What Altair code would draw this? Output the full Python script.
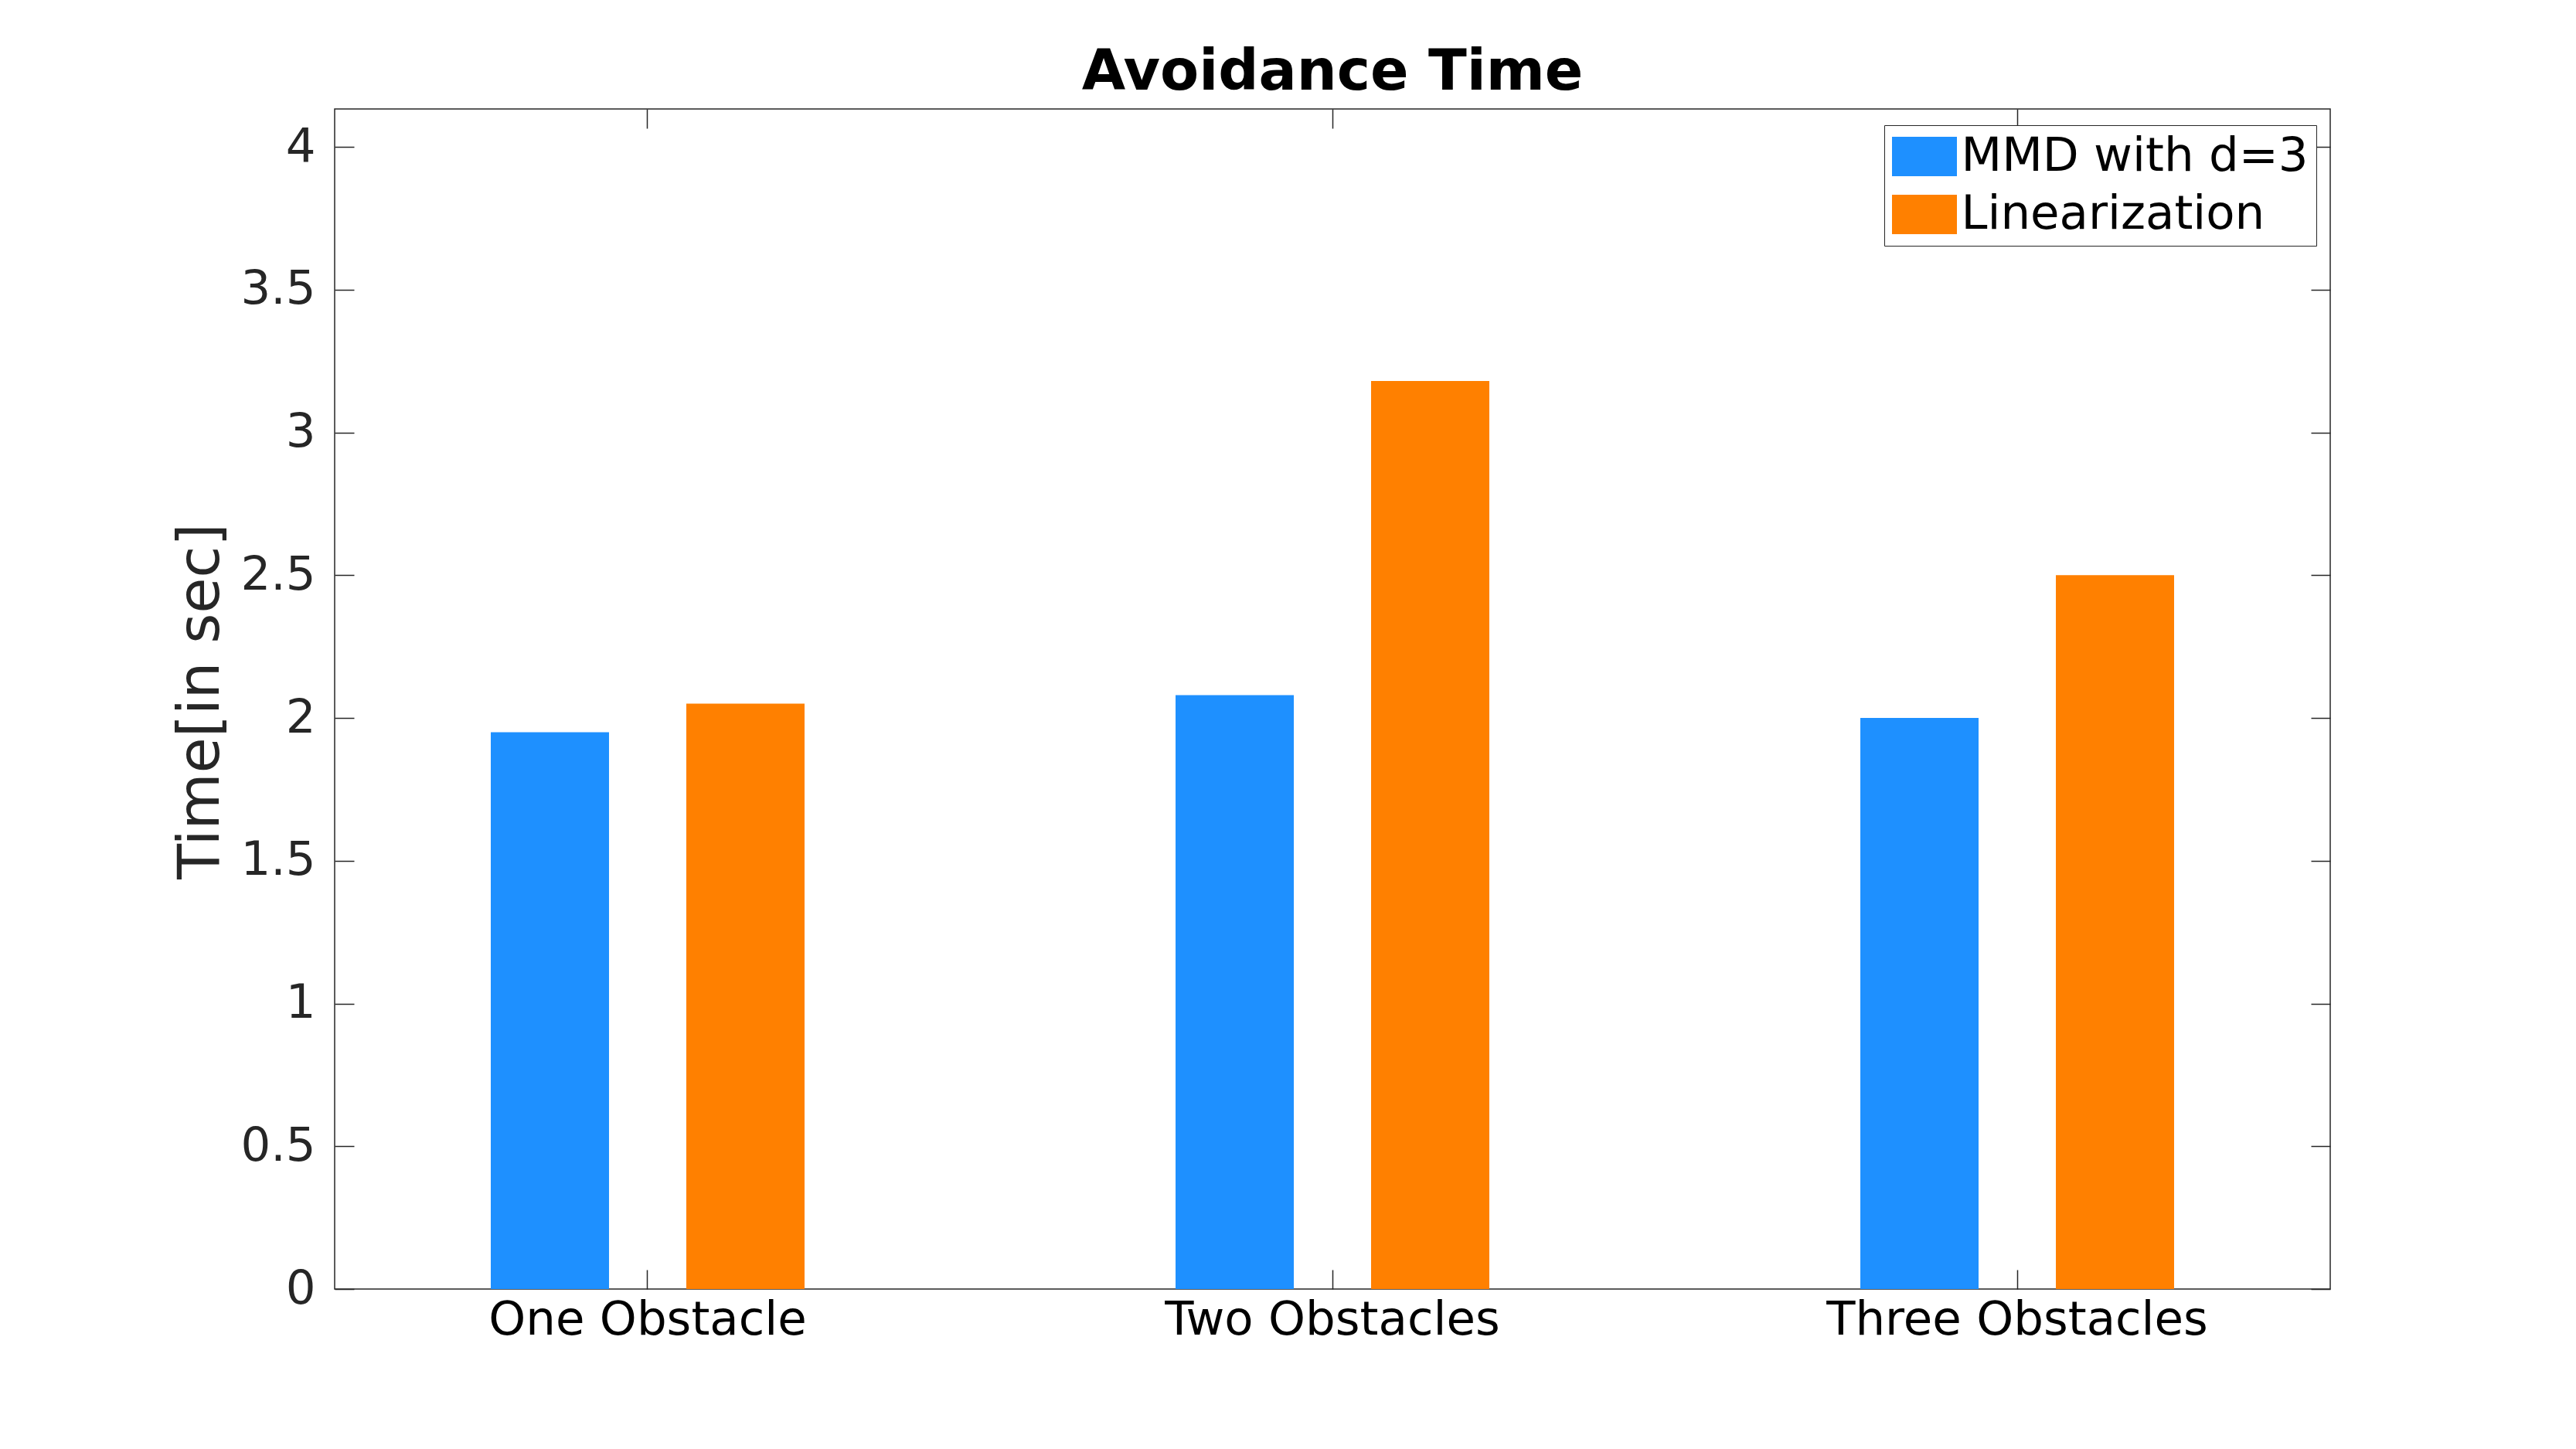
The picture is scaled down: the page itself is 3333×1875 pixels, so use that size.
import altair as alt
import pandas as pd

categories = ["One Obstacle", "Two Obstacles", "Three Obstacles"]
series = ["MMD with d=3", "Linearization"]
mmd_values = [1.95, 2.08, 2.00]
lin_values = [2.05, 3.18, 2.50]
y_ticks = [0, 0.5, 1, 1.5, 2, 2.5, 3, 3.5, 4]
colors = ["#1E90FF", "#FF8000"]
title_text = ["Avoidance Time"]

rows = []
for c, a, b in zip(categories, mmd_values, lin_values):
    rows.append({"category": c, "series": series[0], "value": a})
    rows.append({"category": c, "series": series[1], "value": b})
df = pd.DataFrame(rows)
title_df = pd.DataFrame({"t": title_text})

W, H = 2582, 1527
FONT = "DejaVu Sans"
AX = "#262626"

xscale = alt.Scale(paddingInner=0.5418, paddingOuter=0.228)
yscale = alt.Scale(domain=[0, 4.133], nice=False, zero=True)
xoff_scale = alt.Scale(paddingInner=0.3953, paddingOuter=0)

legend = alt.Legend(
    title=None, orient="none", legendX=2005, legendY=21,
    fillColor="white", strokeColor=AX, padding=10,
    symbolType="M-1.377,-0.836H1.377V0.836H-1.377Z", symbolSize=3721,
    symbolOffset=11.5, labelOffset=17, labelFontSize=61, labelFont=FONT,
    labelColor="black", rowPadding=13, symbolStrokeWidth=0, symbolOpacity=1,
    labelLimit=1000,
)

bars = alt.Chart(df).mark_bar(opacity=1).encode(
    x=alt.X("category:N", sort=categories, scale=xscale,
            axis=alt.Axis(orient="bottom", title=None, labelAngle=0, labelFontSize=61,
                          labelFont=FONT, labelColor="black", labelPadding=10,
                          ticks=False, tickSize=0, domain=False, grid=False,
                          bandPosition=0.5, labelLimit=1000)),
    xOffset=alt.XOffset("series:N", sort=series, scale=xoff_scale),
    y=alt.Y("value:Q", scale=yscale,
            axis=alt.Axis(orient="left", values=y_ticks, format="~g", labelFontSize=61,
                          labelFont=FONT, labelColor=AX, labelPadding=25, ticks=False,
                          tickSize=0, domain=False, grid=False, title="Time[in sec]",
                          titleFontSize=75, titleFont=FONT, titleFontWeight="normal",
                          titleColor=AX, titleX=-151, titleY=766, titleAngle=-90,
                          titleBaseline="alphabetic", titleAlign="center")),
    color=alt.Color("series:N", sort=series,
                    scale=alt.Scale(domain=series, range=colors), legend=legend),
)

tick_style = dict(labels=False, domain=False, ticks=True, tickSize=25, tickColor=AX,
                  tickWidth=1.5, title=None, grid=False)

ticks_a = alt.Chart(df).mark_bar(opacity=0).encode(
    x=alt.X("category:N", sort=categories, scale=xscale,
            axis=alt.Axis(orient="bottom", offset=-H, bandPosition=0.5, **tick_style)),
    y=alt.Y("value:Q", scale=yscale,
            axis=alt.Axis(orient="right", offset=-W, values=y_ticks, **tick_style)),
)

ticks_b = alt.Chart(df).mark_bar(opacity=0).encode(
    x=alt.X("category:N", sort=categories, scale=xscale,
            axis=alt.Axis(orient="top", offset=-H, bandPosition=0.5, **tick_style)),
    y=alt.Y("value:Q", scale=yscale,
            axis=alt.Axis(orient="left", offset=-W, values=y_ticks, **tick_style)),
)

title_mark = alt.Chart(title_df).mark_text(
    font=FONT, fontSize=73, fontWeight="bold", color="black",
    align="center", baseline="alphabetic",
).encode(
    text="t:N",
    x=alt.value(W / 2),
    y=alt.value(-25),
)

chart = alt.layer(bars, ticks_a, ticks_b, title_mark).resolve_axis(
    x="independent", y="independent"
).properties(
    width=W, height=H,
    autosize=alt.AutoSizeParams(type="none"),
    padding={"left": 425, "top": 133, "right": 300, "bottom": 190},
).configure_view(
    stroke=AX, strokeWidth=1.5
).configure_axis(
    grid=False
)

chart.save("out.html", embed_options={"renderer": "svg", "actions": False})
